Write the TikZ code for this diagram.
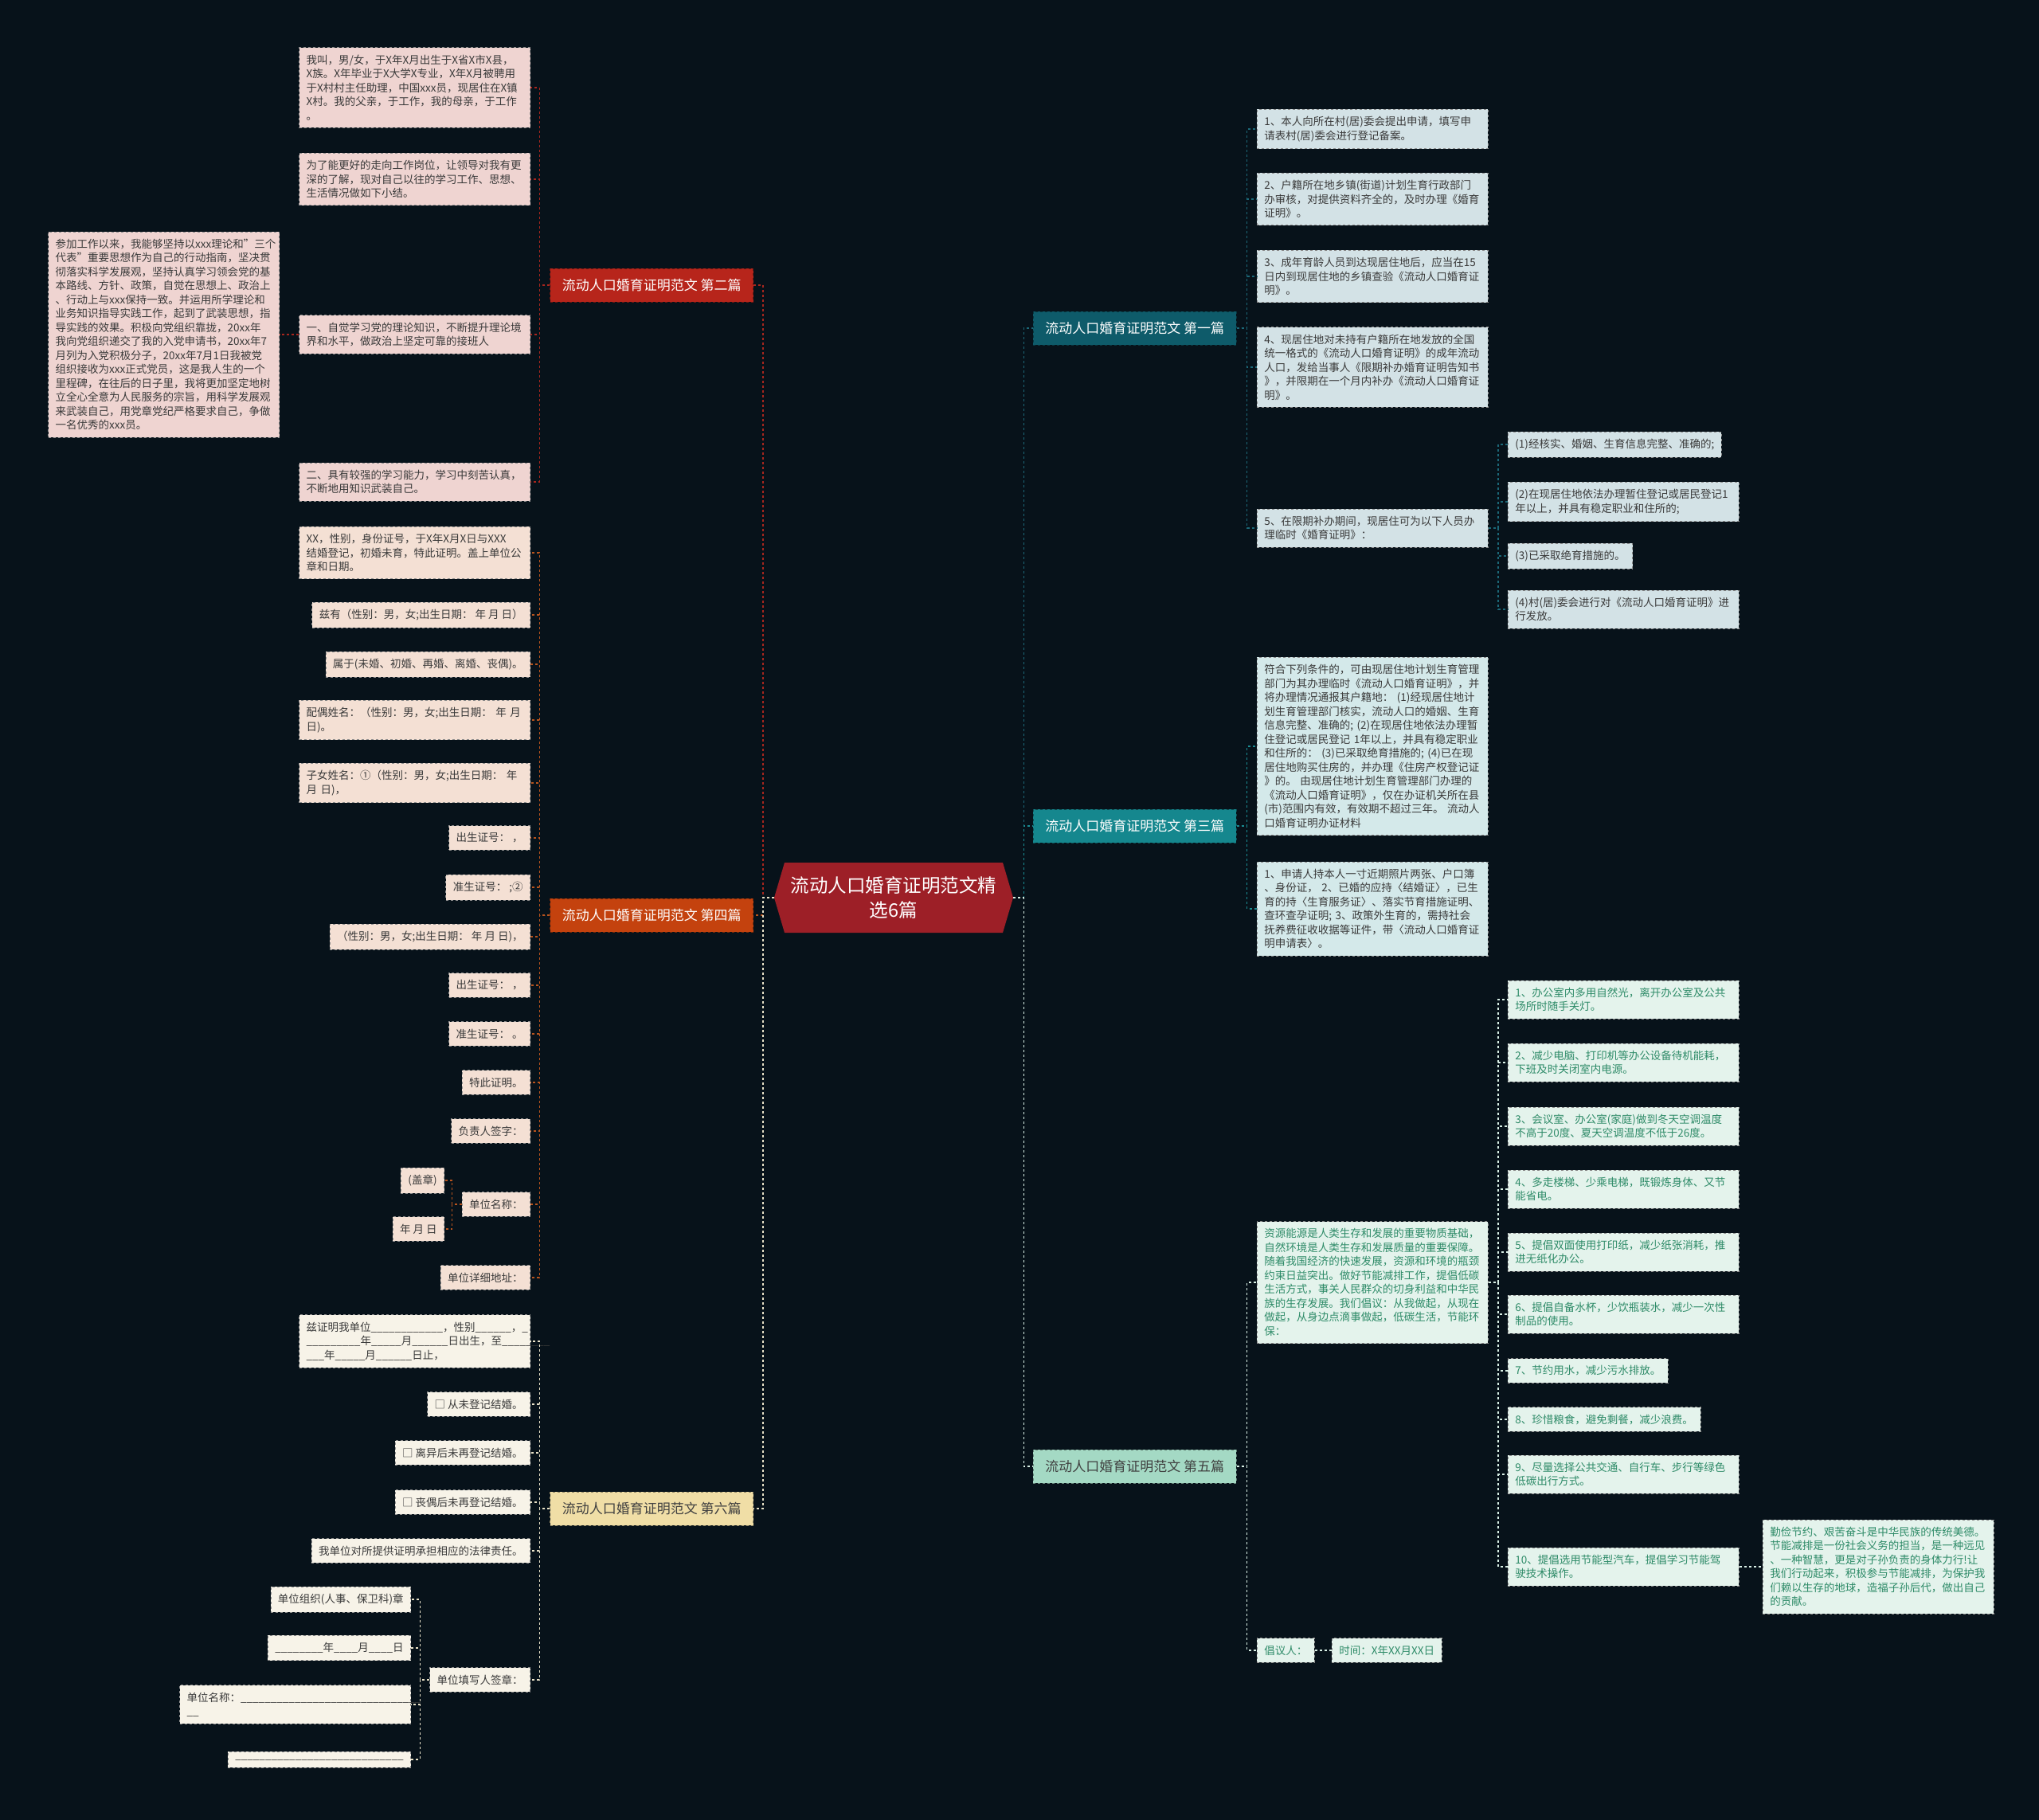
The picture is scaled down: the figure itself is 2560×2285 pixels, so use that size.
\documentclass[tikz,border=0pt]{standalone}
\usepackage{fontspec}
\setmainfont{Noto Sans CJK SC}
\setlength{\parindent}{0pt}
\definecolor{bgc}{HTML}{07121A}
\definecolor{rootc}{HTML}{9D1F27}
\definecolor{b2c}{HTML}{B7251B}
\definecolor{b4c}{HTML}{C4420E}
\definecolor{b6c}{HTML}{F0DEA6}
\definecolor{b1c}{HTML}{0E5B6A}
\definecolor{b3c}{HTML}{15878E}
\definecolor{b5c}{HTML}{A4D9C4}
\definecolor{c2}{HTML}{A8261E}
\definecolor{c4}{HTML}{B8541E}
\definecolor{c6}{HTML}{E9E2C8}
\definecolor{c1}{HTML}{1C6878}
\definecolor{c3}{HTML}{1B8C93}
\definecolor{c5}{HTML}{D8EFE5}
\definecolor{pinkf}{HTML}{EFD4D1}
\definecolor{peachf}{HTML}{F4E0D4}
\definecolor{creamf}{HTML}{F7F3E8}
\definecolor{bluef}{HTML}{D3E2E6}
\definecolor{cyanf}{HTML}{D4E9EA}
\definecolor{mintf}{HTML}{E4F3EC}
\definecolor{leaftxt}{HTML}{3A3A3A}
\definecolor{minttxt}{HTML}{2E8B68}
\newcommand{\fillin}[1]{\foreach\k in {1,...,#1}{\_}}
\begin{document}
\begin{tikzpicture}[
        x=1pt, y=-1pt,
        every node/.style={font=\fontsize{13.5}{17.5}\selectfont, align=left, inner xsep=9pt, inner ysep=9pt},
        leafn/.style={draw=black!45, dashed, line width=0.8pt, text=leaftxt},
        wide/.style={text width=272pt},
        pinkn/.style={leafn, fill=pinkf},
        peachn/.style={leafn, fill=peachf},
        creamn/.style={leafn, fill=creamf},
        bluen/.style={leafn, fill=bluef},
        cyann/.style={leafn, fill=cyanf},
        mintn/.style={leafn, fill=mintf, text=minttxt},
        branchn/.style={minimum width=255pt, minimum height=42pt, inner sep=0pt, align=center, font=\fontsize{17}{20}\selectfont, dashed, line width=0.6pt},
        rootn/.style={minimum width=300pt, minimum height=88pt, inner sep=0pt, align=center, text=white, font=\fontsize{23.5}{31}\selectfont},
        link/.style={dashed, line width=1.4pt},
    ]
    \useasboundingbox (0,0) rectangle (2560,2285);
    \fill[bgc] (0,0) rectangle (2560,2285);

    \fill[rootc] (972,1127) -- (985,1083) -- (1259,1083) -- (1272,1127) -- (1259,1171) -- (985,1171) -- cycle;
    \node[rootn] (root) at (1122,1127) {流动人口婚育证明范文精\\选6篇};

    \node[branchn, fill=b2c, draw=b2c!60!black, text=white, anchor=east] (b2) at (946,358) {流动人口婚育证明范文 第二篇};
    \node[branchn, fill=b4c, draw=b4c!60!black, text=white, anchor=east] (b4) at (946,1149) {流动人口婚育证明范文 第四篇};
    \node[branchn, fill=b6c, draw=b6c!60!black, text=black!75, anchor=east] (b6) at (946,1894) {流动人口婚育证明范文 第六篇};
    \node[branchn, fill=b1c, draw=b1c!60!black, text=white, anchor=west] (b1) at (1297,412) {流动人口婚育证明范文 第一篇};
    \node[branchn, fill=b3c, draw=b3c!60!black, text=white, anchor=west] (b3) at (1297,1037) {流动人口婚育证明范文 第三篇};
    \node[branchn, fill=b5c, draw=b5c!60!black, text=black!75, anchor=west] (b5) at (1297,1841) {流动人口婚育证明范文 第五篇};

    \node[pinkn, wide, anchor=east] (l2a) at (666,110) {我叫，男/女，于X年X月出生于X省X市X县，\\X族。X年毕业于X大学X专业，X年X月被聘用\\于X村村主任助理，中国xxx员，现居住在X镇\\X村。我的父亲，于工作，我的母亲，于工作\\。};
    \node[pinkn, wide, anchor=east] (l2b) at (666,225) {为了能更好的走向工作岗位，让领导对我有更\\深的了解，现对自己以往的学习工作、思想、\\生活情况做如下小结。};
    \node[pinkn, wide, anchor=east] (l2c) at (666,420) {一、自觉学习党的理论知识，不断提升理论境\\界和水平，做政治上坚定可靠的接班人};
    \node[pinkn, wide, anchor=east] (l2c1) at (351,420) {参加工作以来，我能够坚持以xxx理论和"三个\\代表"重要思想作为自己的行动指南，坚决贯\\彻落实科学发展观，坚持认真学习领会党的基\\本路线、方针、政策，自觉在思想上、政治上\\、行动上与xxx保持一致。并运用所学理论和\\业务知识指导实践工作，起到了武装思想，指\\导实践的效果。积极向党组织靠拢，20xx年\\我向党组织递交了我的入党申请书，20xx年7\\月列为入党积极分子，20xx年7月1日我被党\\组织接收为xxx正式党员，这是我人生的一个\\里程碑，在往后的日子里，我将更加坚定地树\\立全心全意为人民服务的宗旨，用科学发展观\\来武装自己，用党章党纪严格要求自己，争做\\一名优秀的xxx员。};
    \node[pinkn, wide, anchor=east] (l2d) at (666,605) {二、具有较强的学习能力，学习中刻苦认真，\\不断地用知识武装自己。};

    \node[peachn, wide, anchor=east] (l4a) at (666,694) {XX，性别，身份证号，于X年X月X日与XXX\\结婚登记，初婚未育，特此证明。盖上单位公\\章和日期。};
    \node[peachn, anchor=east] (l4b) at (666,772) {兹有（性别：男，女;出生日期： 年 月 日）};
    \node[peachn, anchor=east] (l4c) at (666,834) {属于(未婚、初婚、再婚、离婚、丧偶)。};
    \node[peachn, wide, anchor=east] (l4d) at (666,904) {配偶姓名：（性别：男，女;出生日期： 年 月\\日)。};
    \node[peachn, wide, anchor=east] (l4e) at (666,983) {子女姓名：①（性别：男，女;出生日期： 年\\月 日)，};
    \node[peachn, anchor=east] (l4f) at (666,1052) {出生证号： ，};
    \node[peachn, anchor=east] (l4g) at (666,1114) {准生证号： ;②};
    \node[peachn, anchor=east] (l4h) at (666,1176) {（性别：男，女;出生日期： 年 月 日)，};
    \node[peachn, anchor=east] (l4i) at (666,1237) {出生证号： ，};
    \node[peachn, anchor=east] (l4j) at (666,1298) {准生证号： 。};
    \node[peachn, anchor=east] (l4k) at (666,1359) {特此证明。};
    \node[peachn, anchor=east] (l4l) at (666,1420) {负责人签字：};
    \node[peachn, anchor=east] (l4m) at (666,1512) {单位名称：};
    \node[peachn, anchor=east] (l4m1) at (558,1482) {(盖章)};
    \node[peachn, anchor=east] (l4m2) at (558,1543) {年 月 日};
    \node[peachn, anchor=east] (l4n) at (666,1604) {单位详细地址：};

    \node[creamn, wide, anchor=east] (l6a) at (666,1684) {兹证明我单位\fillin{12}，性别\fillin{6}，\_\\\fillin{9}年\fillin{5}月\fillin{6}日出生，至\fillin{8}\\\fillin{3}年\fillin{5}月\fillin{6}日止，};
    \node[creamn, anchor=east] (l6b) at (666,1763) {□ 从未登记结婚。};
    \node[creamn, anchor=east] (l6c) at (666,1824) {□ 离异后未再登记结婚。};
    \node[creamn, anchor=east] (l6d) at (666,1886) {□ 丧偶后未再登记结婚。};
    \node[creamn, anchor=east] (l6e) at (666,1947) {我单位对所提供证明承担相应的法律责任。};
    \node[creamn, anchor=east] (l6f) at (666,2109) {单位填写人签章：};
    \node[creamn, anchor=east] (l6f1) at (516,2008) {单位组织(人事、保卫科)章};
    \node[creamn, anchor=east] (l6f2) at (516,2069) {\fillin{8}年\fillin{4}月\fillin{4}日};
    \node[creamn, wide, anchor=east] (l6f3) at (516,2140) {单位名称：\fillin{30}\\\fillin{2}};
    \node[creamn, anchor=east] (l6f4) at (516,2209) {\fillin{28}};

    \node[bluen, wide, anchor=west] (l1a) at (1578,162) {1、本人向所在村(居)委会提出申请，填写申\\请表村(居)委会进行登记备案。};
    \node[bluen, wide, anchor=west] (l1b) at (1578,250) {2、户籍所在地乡镇(街道)计划生育行政部门\\办审核，对提供资料齐全的，及时办理《婚育\\证明》。};
    \node[bluen, wide, anchor=west] (l1c) at (1578,347) {3、成年育龄人员到达现居住地后，应当在15\\日内到现居住地的乡镇查验《流动人口婚育证\\明》。};
    \node[bluen, wide, anchor=west] (l1d) at (1578,461) {4、现居住地对未持有户籍所在地发放的全国\\统一格式的《流动人口婚育证明》的成年流动\\人口，发给当事人《限期补办婚育证明告知书\\》，并限期在一个月内补办《流动人口婚育证\\明》。};
    \node[bluen, wide, anchor=west] (l1e) at (1578,663) {5、在限期补办期间，现居住可为以下人员办\\理临时《婚育证明》：};
    \node[bluen, anchor=west] (l1e1) at (1893,558) {(1)经核实、婚姻、生育信息完整、准确的;};
    \node[bluen, wide, anchor=west] (l1e2) at (1893,630) {(2)在现居住地依法办理暂住登记或居民登记1\\年以上，并具有稳定职业和住所的;};
    \node[bluen, anchor=west] (l1e3) at (1893,698) {(3)已采取绝育措施的。};
    \node[bluen, wide, anchor=west] (l1e4) at (1893,765) {(4)村(居)委会进行对《流动人口婚育证明》进\\行发放。};

    \node[cyann, wide, anchor=west] (l3a) at (1578,937) {符合下列条件的，可由现居住地计划生育管理\\部门为其办理临时《流动人口婚育证明》，并\\将办理情况通报其户籍地： (1)经现居住地计\\划生育管理部门核实，流动人口的婚姻、生育\\信息完整、准确的; (2)在现居住地依法办理暂\\住登记或居民登记 1年以上，并具有稳定职业\\和住所的： (3)已采取绝育措施的; (4)已在现\\居住地购买住房的，并办理《住房产权登记证\\》的。 由现居住地计划生育管理部门办理的\\《流动人口婚育证明》，仅在办证机关所在县\\(市)范围内有效，有效期不超过三年。 流动人\\口婚育证明办证材料};
    \node[cyann, wide, anchor=west] (l3b) at (1578,1141) {1、申请人持本人一寸近期照片两张、户口簿\\、身份证， 2、已婚的应持〈结婚证〉，已生\\育的持〈生育服务证〉、落实节育措施证明、\\查环查孕证明; 3、政策外生育的，需持社会\\抚养费征收收据等证件，带〈流动人口婚育证\\明申请表〉。};

    \node[mintn, wide, anchor=west] (l5a) at (1578,1610) {资源能源是人类生存和发展的重要物质基础，\\自然环境是人类生存和发展质量的重要保障。\\随着我国经济的快速发展，资源和环境的瓶颈\\约束日益突出。做好节能减排工作，提倡低碳\\生活方式，事关人民群众的切身利益和中华民\\族的生存发展。我们倡议：从我做起，从现在\\做起，从身边点滴事做起，低碳生活，节能环\\保：};
    \node[mintn, wide, anchor=west] (l5a1) at (1893,1255) {1、办公室内多用自然光，离开办公室及公共\\场所时随手关灯。};
    \node[mintn, wide, anchor=west] (l5a2) at (1893,1334) {2、减少电脑、打印机等办公设备待机能耗，\\下班及时关闭室内电源。};
    \node[mintn, wide, anchor=west] (l5a3) at (1893,1414) {3、会议室、办公室(家庭)做到冬天空调温度\\不高于20度、夏天空调温度不低于26度。};
    \node[mintn, wide, anchor=west] (l5a4) at (1893,1493) {4、多走楼梯、少乘电梯，既锻炼身体、又节\\能省电。};
    \node[mintn, wide, anchor=west] (l5a5) at (1893,1572) {5、提倡双面使用打印纸，减少纸张消耗，推\\进无纸化办公。};
    \node[mintn, wide, anchor=west] (l5a6) at (1893,1650) {6、提倡自备水杯，少饮瓶装水，减少一次性\\制品的使用。};
    \node[mintn, anchor=west] (l5a7) at (1893,1721) {7、节约用水，减少污水排放。};
    \node[mintn, anchor=west] (l5a8) at (1893,1782) {8、珍惜粮食，避免剩餐，减少浪费。};
    \node[mintn, wide, anchor=west] (l5a9) at (1893,1851) {9、尽量选择公共交通、自行车、步行等绿色\\低碳出行方式。};
    \node[mintn, wide, anchor=west] (l5a10) at (1893,1967) {10、提倡选用节能型汽车，提倡学习节能驾\\驶技术操作。};
    \node[mintn, wide, anchor=west] (l5a10a) at (2213,1967) {勤俭节约、艰苦奋斗是中华民族的传统美德。\\节能减排是一份社会义务的担当，是一种远见\\、一种智慧，更是对子孙负责的身体力行!让\\我们行动起来，积极参与节能减排，为保护我\\们赖以生存的地球，造福子孙后代，做出自己\\的贡献。};
    \node[mintn, anchor=west] (l5b) at (1578,2072) {倡议人：};
    \node[mintn, anchor=west] (l5b1) at (1672,2072) {时间：X年XX月XX日};

    \draw[link, c2] (root.west) -- ++(-14,0) |- (b2.east);
    \draw[link, c4] (root.west) -- ++(-14,0) |- (b4.east);
    \draw[link, c6] (root.west) -- ++(-14,0) |- (b6.east);
    \draw[link, c1] (root.east) -- ++(13,0) |- (b1.west);
    \draw[link, c3] (root.east) -- ++(13,0) |- (b3.west);
    \draw[link, c5] (root.east) -- ++(13,0) |- (b5.west);

    \foreach \n in {l2a,l2b,l2c,l2d}
        \draw[link, c2] (b2.west) -- ++(-13,0) |- (\n.east);
    \draw[link, c2] (l2c.west) -- (l2c1.east);

    \foreach \n in {l4a,l4b,l4c,l4d,l4e,l4f,l4g,l4h,l4i,l4j,l4k,l4l,l4m,l4n}
        \draw[link, c4] (b4.west) -- ++(-13,0) |- (\n.east);
    \foreach \n in {l4m1,l4m2}
        \draw[link, c4] (l4m.west) -- ++(-12,0) |- (\n.east);

    \foreach \n in {l6a,l6b,l6c,l6d,l6e,l6f}
        \draw[link, c6] (b6.west) -- ++(-13,0) |- (\n.east);
    \foreach \n in {l6f1,l6f2,l6f3,l6f4}
        \draw[link, c6] (l6f.west) -- ++(-12,0) |- (\n.east);

    \foreach \n in {l1a,l1b,l1c,l1d,l1e}
        \draw[link, c1] (b1.east) -- ++(13,0) |- (\n.west);
    \foreach \n in {l1e1,l1e2,l1e3,l1e4}
        \draw[link, c1] (l1e.east) -- ++(12,0) |- (\n.west);

    \foreach \n in {l3a,l3b}
        \draw[link, c3] (b3.east) -- ++(13,0) |- (\n.west);

    \foreach \n in {l5a,l5b}
        \draw[link, c5] (b5.east) -- ++(13,0) |- (\n.west);
    \foreach \n in {l5a1,l5a2,l5a3,l5a4,l5a5,l5a6,l5a7,l5a8,l5a9,l5a10}
        \draw[link, c5] (l5a.east) -- ++(12,0) |- (\n.west);
    \draw[link, c5] (l5a10.east) -- (l5a10a.west);
    \draw[link, c5] (l5b.east) -- (l5b1.west);
\end{tikzpicture}
\end{document}
